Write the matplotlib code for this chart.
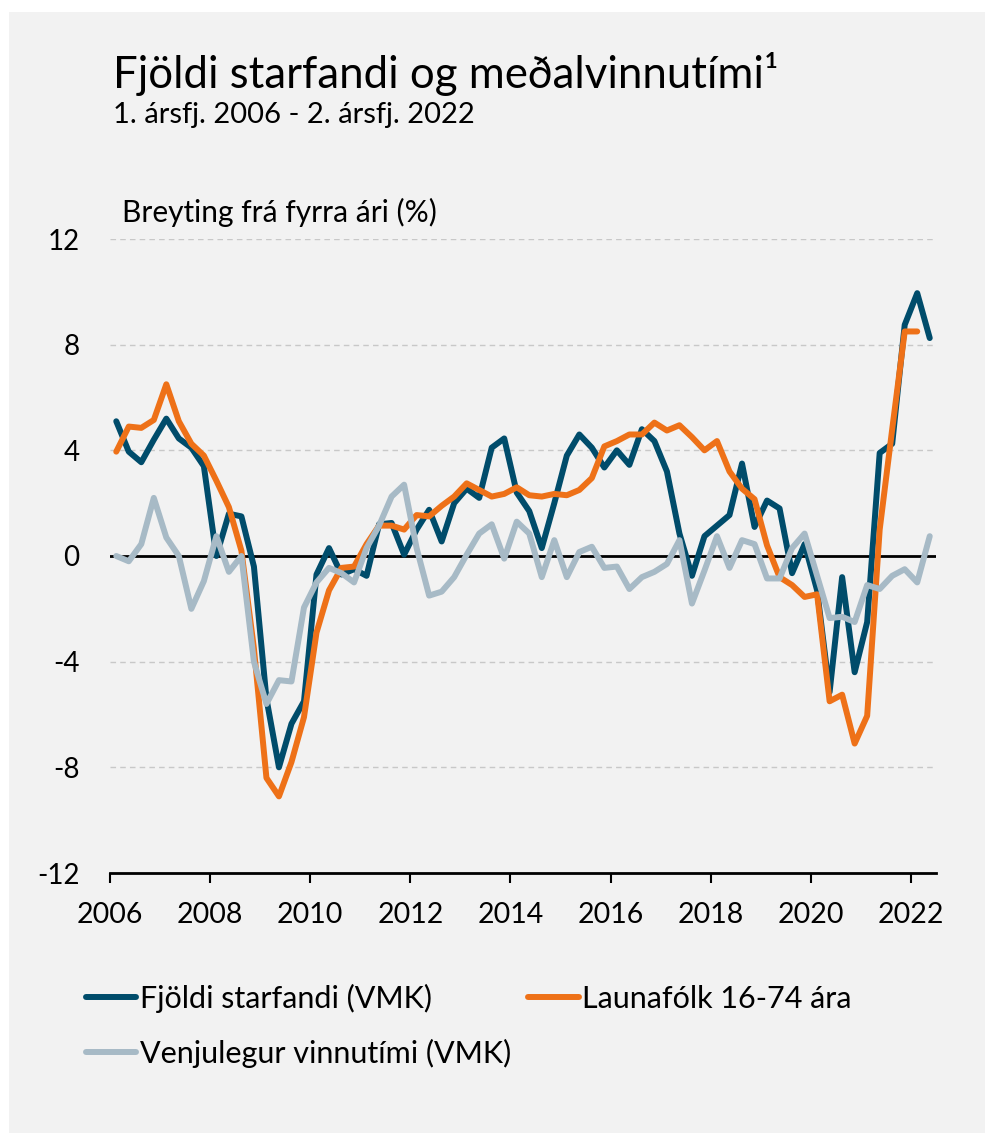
import matplotlib.pyplot as plt
from matplotlib.patches import Rectangle

def ársfjórðungar(fyrsta_ar, fjoldi):
    # midja hvers arsfjordungs a arsasnum
    return [fyrsta_ar + (i + 0.5) / 4 for i in range(fjoldi)]

if __name__ == "__main__":
    fjoldi_starfandi = [5.1, 3.95, 3.55, 4.4, 5.2, 4.45, 4.1, 3.4, 0.0, 1.6, 1.5, -0.4,
                        -5.4, -8.0, -6.35, -5.5, -0.7, 0.3, -0.7, -0.5, -0.75, 1.2, 1.25, 0.05,
                        1.0, 1.75, 0.55, 2.0, 2.55, 2.2, 4.1, 4.45, 2.4, 1.7, 0.3, 2.0,
                        3.8, 4.6, 4.1, 3.35, 4.0, 3.45, 4.8, 4.35, 3.2, 0.85, -0.75, 0.75,
                        1.15, 1.55, 3.5, 1.1, 2.1, 1.8, -0.65, 0.45, -1.3, -5.15, -0.8, -4.4,
                        -2.5, 3.9, 4.25, 8.75, 9.95, 8.25]
    launafolk = [3.95, 4.9, 4.85, 5.15, 6.5, 5.1, 4.25, 3.8, 2.85, 1.85, 0.2, -3.5,
                 -8.4, -9.1, -7.8, -6.1, -2.9, -1.3, -0.45, -0.4, 0.45, 1.15, 1.15, 1.0,
                 1.55, 1.5, 1.9, 2.25, 2.75, 2.5, 2.25, 2.35, 2.6, 2.3, 2.25, 2.35,
                 2.3, 2.5, 2.95, 4.15, 4.35, 4.6, 4.6, 5.05, 4.75, 4.95, 4.5, 4.0,
                 4.35, 3.2, 2.55, 2.15, 0.4, -0.8, -1.1, -1.55, -1.45, -5.5, -5.25, -7.1,
                 -6.05, 1.0, 4.8, 8.5, 8.5]
    vinnutimi = [0.0, -0.2, 0.45, 2.2, 0.7, 0.0, -2.0, -0.95, 0.75, -0.6, 0.0, -4.0,
                 -5.6, -4.7, -4.75, -1.95, -1.0, -0.45, -0.65, -1.0, 0.3, 1.15, 2.25, 2.7,
                 0.3, -1.5, -1.35, -0.8, 0.05, 0.85, 1.2, -0.1, 1.3, 0.85, -0.8, 0.6,
                 -0.8, 0.15, 0.35, -0.45, -0.4, -1.25, -0.8, -0.6, -0.3, 0.6, -1.8, -0.55,
                 0.75, -0.45, 0.6, 0.45, -0.85, -0.85, 0.3, 0.85, -0.75, -2.35, -2.3, -2.5,
                 -1.1, -1.25, -0.75, -0.5, -1.0, 0.75]

    ar = ársfjórðungar(2006, len(fjoldi_starfandi))

    plt.rcParams["font.family"] = ["Lato", "DejaVu Sans"]
    plt.rcParams["axes.unicode_minus"] = False

    fig = plt.figure(figsize=(9.95, 11.38), dpi=100, facecolor="white")
    fig.patches.append(Rectangle((9 / 995, 5 / 1138), 976 / 995, 1121 / 1138,
                                 transform=fig.transFigure, facecolor="#F2F2F2",
                                 edgecolor="none", zorder=-10))
    ax = fig.add_axes([110 / 995, 1 - 873 / 1138, 826 / 995, 634 / 1138])
    ax.set_facecolor("none")

    for g in [12, 8, 4, -4, -8]:
        plt.axhline(g, color="#C8C8C8", linewidth=1, linestyle=(0, (4, 3)), zorder=1)
    plt.axhline(0, color="black", linewidth=2, zorder=2)

    stillingar = dict(linewidth=4.3, solid_capstyle="round", solid_joinstyle="round", zorder=3)
    l1, = plt.plot(ar, fjoldi_starfandi, color="#004C6B", label="Fjöldi starfandi (VMK)", **stillingar)
    l2, = plt.plot(ar[:len(launafolk)], launafolk, color="#EE7118", label="Launafólk 16-74 ára", **stillingar)
    l3, = plt.plot(ar, vinnutimi, color="#A7BAC6", label="Venjulegur vinnutími (VMK)", **stillingar)

    plt.xlim(2006, 2022.5)
    plt.ylim(-12, 12)
    plt.xticks(range(2006, 2023, 2), fontsize=20.5)
    plt.yticks(range(-12, 13, 4), fontsize=20)
    ax.tick_params(axis="x", direction="out", length=7, width=1.5, pad=14)
    ax.tick_params(axis="y", length=0, pad=22)
    for s in ["top", "right", "left"]:
        ax.spines[s].set_visible(False)
    ax.spines["bottom"].set_linewidth(2)

    fig.text(113 / 995, 1 - 74 / 1138, "Fjöldi starfandi og meðalvinnutími¹", fontsize=31.5, va="center")
    fig.text(113 / 995, 1 - 115 / 1138, "1. ársfj. 2006 - 2. ársfj. 2022", fontsize=21, va="center")
    fig.text(122 / 995, 1 - 212 / 1138, "Breyting frá fyrra ári (%)", fontsize=21.5, va="center")

    fig.legend([l1, l3, l2], [l1.get_label(), l3.get_label(), l2.get_label()],
               ncol=2, loc="upper left", bbox_to_anchor=(86 / 995, 1 - 984 / 1138),
               frameon=False, fontsize=22, borderpad=0, borderaxespad=0,
               handlelength=1.65, handletextpad=0.12, labelspacing=0.83, columnspacing=0.55)

    plt.savefig("out.png", dpi=100, facecolor=fig.get_facecolor())
    plt.close()
